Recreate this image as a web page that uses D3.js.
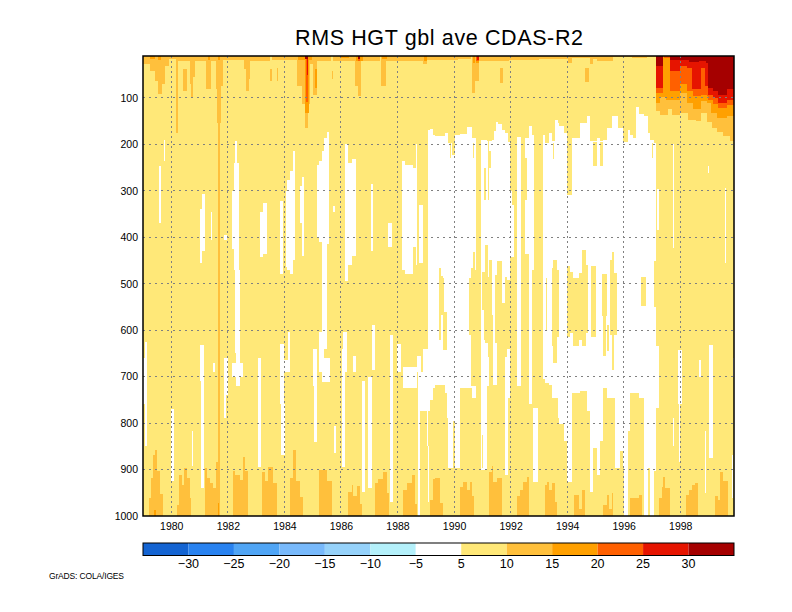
<!DOCTYPE html>
<html lang="en">
<head>
<meta charset="UTF-8">
<title>RMS HGT gbl ave CDAS-R2</title>
<script src="https://d3js.org/d3.v7.min.js"></script>
<style>
    html, body { margin: 0; padding: 0; background: #fff; }
    svg { display: block; }
    text { font-family: "Liberation Sans", Arial, sans-serif; fill: #000; }
    .band rect { shape-rendering: crispEdges; }
    .grid line { stroke: #808080; stroke-width: 1; shape-rendering: crispEdges; }
    .grid .h { stroke-dasharray: 2 4; }
    .grid .v { stroke-dasharray: 2 3; }
    .axis text { font-size: 10.5px; }
    .axis .domain { display: none; }
</style>
</head>
<body>
<svg id="chart" width="792" height="612"></svg>
<script>
// all spans are [startStep, endStep, topHpa, bottomHpa], 252 time steps from Jan 1979
var stepsPerYear = 12.057;
var years = [1980, 1982, 1984, 1986, 1988, 1990, 1992, 1994, 1996, 1998];
var levels = [100, 200, 300, 400, 500, 600, 700, 800, 900, 1000];
var colorLevels = [-30, -25, -20, -15, -10, -5, 5, 10, 15, 20, 25, 30];
var colorBands = ["#1464d2", "#2882f0", "#50a5f5", "#78b9fb", "#96d2fa", "#b4f0fa", "#ffffff",
    "#ffe878", "#ffc03c", "#ffa000", "#ff6000", "#e61400", "#a50000"];

// under 5
var whiteSpans = [
    [0,0.7,660,760],[0.7,1.6,625,850],[7,7.7,247,370],[9,9.5,190,236],[11.9,13.2,770,925],
    [20.8,21.5,818,893],[24.3,25,340,456],[25,26.5,306,430],[24.2,25.8,632,710],[24.7,25.8,710,940],
    [29,29.5,345,405],[30,30.6,670,690],[34.6,35.7,395,405],[34.6,36.4,660,740],[34.6,35.5,740,790],
    [39.2,40.2,193,240],[38.6,41,240,300],[37.8,41,300,425],[38.7,41,425,470],[39.2,41.3,470,650],
    [39.5,41.5,650,720],[37.8,42.5,670,700],[49,50.2,660,895],[51,52.7,326,437],[50,51,345,443],
    [58.4,59.5,322,480],[58.5,60.3,630,760],[58.8,60.6,760,868],[60.3,62.5,665,690],[60.8,61.3,300,465],
    [61.3,62.7,276,470],[61.9,62.6,603,686],[62.7,64,258,480],[64,64.7,215,450],[67.7,68.8,270,440],
    [67,67.7,290,370],[72.3,74,640,720],[73,74,720,840],[74,75,245,400],[75,76.2,236,410],
    [76.2,77.2,215,620],[77.2,78.4,186,640],[78.4,79.5,173,415],[75,77,605,690],[76.2,79.7,660,712],
    [81.2,82,333,345],[81.4,82.3,807,865],[84.7,86.1,640,895],[85.3,87,603,690],[86.2,87.4,200,495],
    [87.4,89,240,460],[89,91,232,440],[89.7,91,655,690],[93.2,94.6,710,948],[96,97.5,700,940],
    [97.4,98.2,285,430],[97.5,98.9,590,686],[104.6,106,370,420],[105.3,106.7,610,970],[108.3,110,630,690],
    [110.3,111.7,237,470],[111.7,115,245,480],[115,116.2,250,420],[116.2,116.8,200,460],[111,116.7,680,725],
    [116.7,118.5,656,690],[117.5,119.5,330,455],[117.3,118.2,690,1000],[118.2,121,690,775],[119.5,121.7,640,690],
    [121,121.7,690,850],[121.4,122,850,970],
    [121.7,122.4,170,775],[122.4,123.5,168,750],[123.5,124.6,180,725],[124.6,128.8,182,718],
    [128.8,129.6,176,735],[129.6,130.2,176,790],[130.2,133,198,897],[133,135.2,180,897],[135.2,138,178,724],
    [138,140.2,163,724],[140.2,142.2,186,745],[144,146.8,190,901],[146.8,148.7,193,720],[148.7,149.5,190,717],
    [149.5,150.5,172,717],[150.5,151.5,152,717],[151.5,153,156,717],[153,154.4,170,735],[154.4,155.5,175,912],
    [155.5,156.5,195,745],[156.5,159.6,197,705],[159.6,161,185,720],[161,163,185,717],[163,164.8,186,717],
    [164.8,165.8,161,760],[165.8,166.8,179,470],[166.2,168.6,767,926],[170.4,171.4,179,706],[171.4,173.3,198,713],
    [173.3,174.3,175,717],[174.3,175.7,193,745],[175.7,177.1,147,745],[177.1,177.4,155,790],[177.4,179.3,160,803],
    [179.3,180.9,175,838],[180.9,182.8,190,926],[182.8,186.4,186,735],[186.4,189.2,155,730],[189.2,190.4,139,774],
    [190.4,192,193,948],[192,193.5,193,854],[193.5,194.9,186,912],[194.9,196.3,193,839],[196.3,197.7,190,725],
    [197.7,199.9,165,745],[199.9,201.3,139,745],[201.3,202.7,139,897],[202.7,203.4,165,897],[203.4,204.6,165,860],
    [204.6,205.2,197,897],[205.2,207,195,1000],[207,207.8,170,818],[207.8,209,180,735],[209,210.2,186,735],
    [210.2,211.5,120,735],[211.5,213.8,135,745],[213.8,215.5,140,1000],[215.5,216.3,175,897],[216.3,217.7,190,1000],
    [217.7,218.8,198,904],[218.8,220,635,767],
    [219.2,220.1,297,385],[226,226.4,200,424],[226.2,226.6,790,850],[228.3,230,643,760],[228.4,229,760,883],
    [237.2,237.8,665,700],[239.7,240.1,818,950],[240.8,241.4,247,262],[241.5,243.2,632,875],[248.2,248.8,294,456],
    [251,251.6,868,962],[251.6,252,660,700]
];

// 5 to 10 again, standing in the white part
var yellowSpans = [
    [130.9,131.4,198,230],[131.7,133,198,222],[132.2,132.9,796,897],[140.9,141.2,198,230],[142,144,280,745],
    [144.4,145.1,825,897],[144.4,145.4,474,556],[145.2,146.3,250,320],[146.9,147.7,193,320],[147.7,148.4,215,250],
    [126.2,127,467,621],[127,127.8,483,567],[127.8,128.5,488,643],[128.5,129.5,560,643],
    [139,139.7,488,610],[139.7,140.6,467,720],[140.6,141.6,431,720],[141.6,142.3,470,720],
    [145.2,145.9,474,621],[145.9,146.9,417,628],[146.9,147.7,485,657],[147.7,148.7,449,720],[148.7,149.4,567,720],
    [150.1,150.8,481,628],[150.8,153,452,720],[153,154.4,542,735],[154.4,155.4,486,657],[155.4,156.5,492,640],
    [156.5,157.5,197,300],[157.5,158,197,330],[156.5,158,442,720],[158,159.6,197,720],
    [161,162.9,185,720],[162.9,163.6,230,320],[162.7,164.6,437,717],[165.8,166.8,470,767],
    [171.9,172.3,488,600],[174.3,175,467,635],[174.7,175.2,197,232],[175,176.4,449,671],[176.4,177.4,470,615],
    [180.9,182.8,190,310],[180.9,182.1,463,614],[182.1,183.5,474,607],[183.5,185.7,488,635],[185.7,187.1,477,621],
    [187.1,188.8,427,635],[188.8,189.9,460,607],[191,193,463,614],[192,193.5,195,247],[194.9,196.3,195,247],
    [195.7,197.7,479,570],[196.3,197.4,570,655],[197.7,198.7,590,645],[199.2,199.9,449,610],[199.9,200.9,431,686],
    [200.9,202,477,610],[211.3,211.6,499,506],[212.4,214.5,485,548],[216.9,217.6,198,230],[217.9,219,452,550]
];

// 10 to 15
var orangeSpans = [
    [0,3,10,28],[3,5,10,43],[5,6.5,10,64],[6.5,8,10,91],[8,9.5,10,71],[9.5,11,10,32],[11,14,10,17],[14,14.8,10,175],
    [14.8,20,10,21],[16.9,18.6,39,86],[20,20.6,10,70],[20.6,21.4,10,100],[21.4,22,10,55],[22,27,10,20],[27,29,10,82],
    [29,31,10,21],[31,31.6,10,82],[31.6,33.2,10,154],[33.2,34.2,10,75],[32,32.9,10,1000],[34.2,43,10,18],[43,43.8,10,39],
    [43.8,45,10,86],[45,45.6,10,60],[45.6,54,10,21],[54,55,39,64],[57,57.6,36,64],[55,65.5,10,18],[65.5,68,10,75],
    [68,69,10,114],[69,70.2,10,165],[70.2,71,10,114],[71,72.7,10,28],[72.7,74.3,10,93],[74.3,80,10,20],[80.5,81,43,60],
    [81,90.4,10,21],[90.4,91.6,10,75],[91.6,93,10,96],[93,101,10,21],[101.5,103.5,10,75],[103.5,119.5,10,20],
    [119.5,121,10,28],[121,134.5,10,18],[134.5,140,10,17],[140.2,141.6,10,89],[141.6,143.3,10,64],[143.3,156,10,20],
    [152.3,153.4,35,68],[156,169,10,18],[169,181.4,10,16],[181.4,182.8,10,24],[182.8,190.6,10,14],[188.5,190,36,67],
    [190.6,192,10,28],[192,193.5,10,16],[193.5,200.6,10,20],[200.6,208.4,10,13],[208.4,214.8,10,14],[214.8,218.8,10,12],
    [218.8,220.5,10,129],[220.5,222,10,138],[222,224,10,136],[224,225.4,10,125],[225.4,229,10,138],[229,232.5,10,132],
    [232.5,236,10,147],[236,237.8,10,150],[237.8,240.4,10,132],[240.4,242.5,10,152],[242.5,244.6,10,165],
    [244.6,247.5,10,173],[247.5,250.3,10,183],[250.3,252,10,193],
    [2.6,3.3,962,1000],[3.3,4.4,919,1000],[4.4,5.1,868,1000],[5.1,6.1,857,1000],[6.1,7.2,904,1000],[7.2,8.4,952,1000],
    [14.4,15.2,976,1000],[15.2,16.8,912,1000],[16.8,17.6,933,1000],[17.6,18.9,897,1000],[18.9,20,919,1000],[20,20.5,962,1000],
    [26.4,27.4,897,1000],[27.4,28.6,919,1000],[28.6,30,930,1000],[30,31.1,940,1000],[31.1,32.6,883,1000],
    [38.5,39.4,904,1000],[39.4,41.4,912,1000],[41.4,42.5,923,1000],[42.5,43.5,872,1000],[43.5,44.9,904,1000],
    [50.6,52,905,1000],[52,53.4,925,1000],[53.4,55.6,895,1000],[55.6,57,930,1000],
    [62.7,64.1,918,1000],[64.1,65.1,857,1000],[65.1,67,925,1000],[67,68.4,960,1000],
    [75,76.2,900,1000],[76.2,78.3,900,1000],[78.3,80.5,925,1000],
    [87.6,89,948,1000],[89,89.7,933,1000],[89.7,91.1,958,1000],[91.1,92.5,935,1000],[92.5,93.2,975,1000],
    [99,100.4,928,1000],[100.4,102.5,920,1000],[102.5,103.9,905,1000],[103.9,105,950,1000],
    [111,112.4,945,1000],[112.4,114.6,928,1000],[114.6,116,912,1000],[116,116.7,975,1000],
    [122.4,123.5,965,1000],[123.5,124.5,921,1000],[124.5,126.7,918,1000],[126.7,128.1,972,1000],
    [135.2,136.6,937,1000],[136.6,138,926,1000],[138,139.5,944,1000],[139.5,140.2,926,1000],[140.2,141.2,958,1000],
    [147.7,148.7,905,1000],[148.7,149.4,893,1000],[149.4,150.8,926,1000],[150.8,153,919,1000],
    [159.6,160.8,958,1000],[160.8,162.2,944,1000],[162.2,163.6,926,1000],[163.6,164.6,915,1000],
    [171.4,172.4,933,1000],[172.4,173.3,926,1000],[173.3,174.3,944,1000],[174.3,175.7,930,1000],[175.7,176.4,970,1000],
    [183.8,185.7,955,1000],[185.7,187.1,985,1000],[187.1,188.5,945,1000],
    [196.3,197.7,977,1000],[197.7,198.9,955,1000],[198.9,199.9,984,1000],[199.9,200.6,951,1000],
    [207.7,211.3,962,1000],[211.3,212.6,955,1000],
    [220,221.2,962,1000],[221.2,221.9,938,1000],[221.9,222.6,915,1000],[222.6,224.7,940,1000],
    [231.6,232.6,955,1000],[232.6,234,944,1000],[234,235.4,933,1000],[235.4,236.8,930,1000],
    [244,245,958,1000],[245,246.1,965,1000],[246.1,247.5,905,1000],[247.5,249.4,925,1000]
];

// 15 to 20
var amberSpans = [
    [3,5,10,17],[6.5,7.8,10,18],[27.6,28.6,10,18],[32,33,10,18],[66,72,10,18],[69,70.6,10,132],[73.2,74,39,78],
    [84,88,10,15],[91,94,10,20],[102,104,10,17],[120,121,10,20],[140.6,141.6,10,24],[142,143.2,10,24],
    [4.7,5.7,988,1000],[32,32.4,973,1000],
    [218.8,220.5,10,111],[220.5,223,10,99],[223,229,10,104],[229,232,10,89],[232,234.6,10,111],[234.6,237.8,10,125],
    [237.8,240.4,10,107],[240.4,242,10,111],[242,244.6,10,132],[244.6,249,10,143],[249,252,10,139]
];

// 20 to 25
var deepOrangeSpans = [
    [69.6,70.3,10,110],[91.6,92.6,10,20],[142.2,143.1,10,20],
    [218.8,221.9,10,89],[222,224.5,10,14],[224.5,229,10,86],[229,232,10,71],[232,234.6,10,86],[234.6,237.8,10,96],
    [237.8,240.4,10,93],[240.4,241,10,96],[241,243,10,104],[243,245,10,114],[245,249,10,122],[249,252,10,116]
];

// 25 to 30
var redSpans = [
    [69.8,70.2,10,50],[142.3,143.1,10,18],
    [218.8,221.9,10,78],[224.5,229,10,43],[229,232,10,32],[232,234,10,35],[234,237.8,10,82],[237.8,239.5,10,35],
    [239.5,241,10,75],[241,243,10,93],[243,245,10,100],[245,249,10,111],[249,252,10,104]
];

// above 30
var darkRedSpans = [
    [69,70.5,10,17],[91.6,92.6,10,17],
    [218.8,221.9,10,32],[224.5,233,10,18],[233,237,10,22],[237,240,10,20],[240,241,10,25],[241,243,10,78],
    [243,245,10,86],[245,249,10,93],[249,252,10,82]
];

var layers = [
    {spans: whiteSpans, color: colorBands[6]},
    {spans: yellowSpans, color: colorBands[7]},
    {spans: orangeSpans, color: colorBands[8]},
    {spans: amberSpans, color: colorBands[9]},
    {spans: deepOrangeSpans, color: colorBands[10]},
    {spans: redSpans, color: colorBands[11]},
    {spans: darkRedSpans, color: colorBands[12]}
];

var plot = {left: 143, right: 734, top: 56, bottom: 516};

var x = d3.scaleLinear().domain([0, 252]).range([plot.left, plot.right]);
var y = d3.scaleLinear().domain([10, 1000]).range([plot.top, plot.bottom]);

function yearStep(yr) { return (yr - 1979) * stepsPerYear; }

var svg = d3.select("#chart");

svg.append("text")
    .attr("x", 295)
    .attr("y", 45)
    .attr("font-size", 21.5)
    .attr("textLength", 288)
    .attr("lengthAdjust", "spacing")
    .text("RMS HGT gbl ave CDAS-R2");

// the 5-10 colour fills the frame, everything else is painted over it
svg.append("rect")
    .attr("x", plot.left)
    .attr("y", plot.top)
    .attr("width", plot.right - plot.left)
    .attr("height", plot.bottom - plot.top)
    .attr("fill", colorBands[7]);

layers.forEach(function(layer) {
    svg.append("g").attr("class", "band")
        .selectAll("rect")
        .data(layer.spans)
        .enter().append("rect")
        .attr("x", function(d) { return x(d[0]); })
        .attr("width", function(d) { return x(d[1]) - x(d[0]); })
        .attr("y", function(d) { return y(d[2]); })
        .attr("height", function(d) { return y(d[3]) - y(d[2]); })
        .attr("fill", layer.color);
});

var grid = svg.append("g").attr("class", "grid");

grid.selectAll(".h")
    .data(levels.slice(0, -1))
    .enter().append("line")
    .attr("class", "h")
    .attr("x1", plot.left)
    .attr("x2", plot.right)
    .attr("y1", function(d) { return y(d); })
    .attr("y2", function(d) { return y(d); });

grid.selectAll(".v")
    .data(years)
    .enter().append("line")
    .attr("class", "v")
    .attr("x1", function(d) { return x(yearStep(d)); })
    .attr("x2", function(d) { return x(yearStep(d)); })
    .attr("y1", plot.top)
    .attr("y2", plot.bottom);

svg.append("g")
    .attr("class", "axis")
    .attr("transform", "translate(0," + plot.bottom + ")")
    .call(d3.axisBottom(x)
        .tickValues(years.map(yearStep))
        .tickFormat(function(d, i) { return years[i]; })
        .tickSize(0)
        .tickPadding(7));

svg.append("g")
    .attr("class", "axis")
    .attr("transform", "translate(" + plot.left + ",0)")
    .call(d3.axisLeft(y)
        .tickValues(levels)
        .tickFormat(d3.format("d"))
        .tickSize(0)
        .tickPadding(5));

svg.append("rect")
    .attr("x", plot.left)
    .attr("y", plot.top)
    .attr("width", plot.right - plot.left)
    .attr("height", plot.bottom - plot.top)
    .attr("fill", "none")
    .attr("stroke", "#000")
    .attr("stroke-width", 1.5);

// colour key
var key = d3.scaleLinear().domain([0, colorBands.length]).range([plot.left, plot.right]);

svg.append("g").selectAll("rect")
    .data(colorBands)
    .enter().append("rect")
    .attr("x", function(d, i) { return key(i); })
    .attr("y", 543)
    .attr("width", key(1) - key(0))
    .attr("height", 12.5)
    .attr("fill", function(d) { return d; });

svg.append("rect")
    .attr("x", plot.left)
    .attr("y", 543)
    .attr("width", plot.right - plot.left)
    .attr("height", 12.5)
    .attr("fill", "none")
    .attr("stroke", "#000")
    .attr("stroke-width", 1);

svg.append("g").selectAll("text")
    .data(colorLevels)
    .enter().append("text")
    .attr("x", function(d, i) { return key(i + 1); })
    .attr("y", 568)
    .attr("text-anchor", "middle")
    .attr("font-size", 12.5)
    .text(function(d) { return d < 0 ? "\u2212" + (-d) : d; });

svg.append("text")
    .attr("x", 49)
    .attr("y", 579)
    .attr("font-size", 8.5)
    .attr("textLength", 75)
    .text("GrADS: COLA/IGES");
</script>
</body>
</html>
